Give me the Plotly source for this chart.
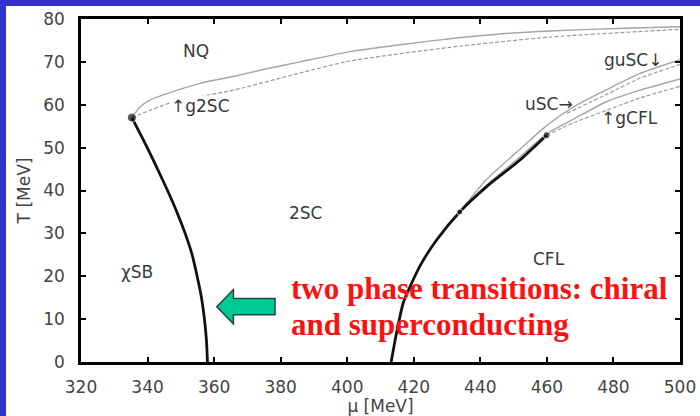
import plotly.graph_objects as go

# Phase boundaries in the (mu, T) plane, values in MeV
chiral_mu = [335.3, 337.6, 339.9, 343.0, 346.0, 348.8, 351.3, 353.4, 354.9, 356.2, 357.1, 357.7, 358.0]
chiral_T = [57.0, 53.5, 50.0, 45.0, 40.0, 35.0, 30.0, 25.0, 20.0, 15.0, 10.0, 5.0, 0.0]

cfl_mu = [413.2, 414.8, 416.8, 419.3, 422.3, 426.8, 433.8, 441.9, 451.9, 459.9]
cfl_T = [0.0, 6.7, 13.7, 18.3, 23.0, 28.4, 35.0, 40.9, 47.1, 52.9]

nq_mu = [335.3, 337.7, 340.7, 345.8, 355.8, 365.8, 375.8, 385.8, 400.8, 415.9, 430.9, 445.9, 461.0, 481.0, 500.0]
nq_T = [57.0, 59.5, 61.1, 62.6, 65.0, 66.6, 68.4, 70.0, 72.4, 74.0, 75.4, 76.5, 77.2, 77.8, 78.2]

g2sc_mu = [335.3, 340.7, 346.7, 355.8, 365.8, 385.8, 400.8, 430.9, 461.0, 500.0]
g2sc_T = [57.0, 58.7, 60.4, 61.9, 63.4, 67.4, 70.2, 73.4, 75.8, 77.6]

usc_mu = [433.8, 441.9, 451.9, 460.0, 468.9, 477.9, 488.0, 500.0]
usc_T = [35.0, 42.6, 49.6, 55.2, 59.9, 63.5, 67.3, 70.5]

gusc_mu = [466.0, 477.9, 488.0, 500.0]
gusc_T = [58.0, 62.4, 66.2, 69.4]

ucfl_mu = [433.8, 441.9, 451.9, 459.9, 467.9, 477.9, 488.0, 500.0]
ucfl_T = [35.0, 41.3, 47.8, 53.2, 56.6, 60.7, 63.4, 66.0]

gcfl_mu = [459.9, 468.0, 477.9, 488.0, 500.0]
gcfl_T = [52.9, 55.8, 58.7, 61.6, 64.3]

point_mu = [335.3, 433.8, 459.9]
point_T = [57.0, 35.0, 52.9]
point_size = [9, 6, 7]

# Region labels: (text, mu, T)
region_labels = [
    ("NQ", 354.6, 72.5),
    ("↑g2SC", 355.8, 59.7),
    ("2SC", 387.6, 34.7),
    ("χSB", 336.7, 21.0),
    ("CFL", 460.6, 24.0),
    ("uSC→", 460.5, 60.1),
    ("guSC↓", 485.9, 70.4),
    ("↑gCFL", 484.7, 57.0),
]

x_ticks = [320, 340, 360, 380, 400, 420, 440, 460, 480, 500]
y_ticks = [0, 10, 20, 30, 40, 50, 60, 70, 80]

# Block arrow pointing at the chiral boundary (mu, T vertices)
arrow_mu = [360.8, 365.8, 365.8, 378.3, 378.3, 365.8, 365.8]
arrow_T = [12.9, 16.9, 14.8, 14.8, 11.0, 11.0, 8.9]

note_lines = ["two phase transitions: chiral", "and superconducting"]

LABEL_FONT = "DejaVu Sans"
GREY = "#a6a6a6"
DASH_GREY = "#9a9a9a"

fig = go.Figure()


def add_line(mu, T, color, width, dash="solid"):
    fig.add_trace(go.Scatter(
        x=mu, y=T, mode="lines",
        line=dict(color=color, width=width, dash=dash, shape="spline", smoothing=0.6),
        hoverinfo="skip", showlegend=False,
    ))


add_line(nq_mu, nq_T, GREY, 1.4)
add_line(g2sc_mu, g2sc_T, DASH_GREY, 1.2, "4px,2px")
add_line(usc_mu, usc_T, GREY, 1.4)
add_line(gusc_mu, gusc_T, DASH_GREY, 1.2, "4px,2px")
add_line(ucfl_mu, ucfl_T, GREY, 1.4)
add_line(gcfl_mu, gcfl_T, DASH_GREY, 1.2, "4px,2px")
add_line(chiral_mu, chiral_T, "#111111", 2.8)
add_line(cfl_mu, cfl_T, "#111111", 2.8)

fig.add_trace(go.Scatter(
    x=point_mu, y=point_T, mode="markers",
    marker=dict(color="#111111", size=point_size),
    hoverinfo="skip", showlegend=False,
))

for text, mu, T in region_labels:
    fig.add_annotation(
        x=mu, y=T, text=text, showarrow=False,
        font=dict(family=LABEL_FONT, size=17, color="#3a3a3a"),
        bgcolor="white" if text == "↑g2SC" else None, borderpad=0,
    )

# Arrow
path = "M " + " L ".join(f"{m},{t}" for m, t in zip(arrow_mu, arrow_T)) + " Z"
fig.add_shape(type="path", path=path, xref="x", yref="y",
              fillcolor="#00c896", line=dict(color="#1f4a3a", width=1.5))

# Red note
for i, line in enumerate(note_lines):
    fig.add_annotation(
        x=382.5, y=17.2 - 8.4 * i, xanchor="left", yanchor="middle",
        text=f"<b>{line}</b>", showarrow=False,
        font=dict(family="Liberation Serif", size=31, color="#ff1010"),
    )

# Blue frame along the top and left edges
PX_L, PX_R, PX_T, PX_B, W, H = 81, 680, 19, 362, 700, 416
def px_x(p):
    return (p - PX_L) / (PX_R - PX_L)
def px_y(p):
    return (PX_B - p) / (PX_B - PX_T)

fig.add_shape(type="rect", xref="paper", yref="paper",
              x0=px_x(0), x1=px_x(6), y0=px_y(H), y1=px_y(0),
              fillcolor="#3333cc", line=dict(width=0), layer="above")
fig.add_shape(type="rect", xref="paper", yref="paper",
              x0=px_x(0), x1=px_x(W), y0=px_y(6), y1=px_y(0),
              fillcolor="#3333cc", line=dict(width=0), layer="above")

axis_common = dict(
    showgrid=False, zeroline=False, showline=True, linecolor="black", linewidth=2.5,
    mirror="ticks", ticks="inside", ticklen=5, tickwidth=2, tickcolor="black",
    tickfont=dict(family=LABEL_FONT, size=17, color="#444444"),
    automargin=False,
)

fig.update_xaxes(
    range=[320, 500], tickvals=x_ticks, ticktext=[str(v) for v in x_ticks],
    ticklabelstandoff=8,
    title=dict(text="μ [MeV]", font=dict(family=LABEL_FONT, size=17, color="#444444"), standoff=0),
    **axis_common,
)
fig.update_yaxes(
    range=[0, 80], tickvals=y_ticks, ticktext=[str(v) for v in y_ticks],
    ticklabelstandoff=10,
    title=dict(text="T [MeV]", font=dict(family=LABEL_FONT, size=17, color="#444444"), standoff=9),
    **axis_common,
)

fig.update_layout(
    width=W, height=H,
    margin=dict(l=PX_L, r=W - PX_R, t=PX_T, b=H - PX_B),
    paper_bgcolor="white", plot_bgcolor="white",
    showlegend=False,
)

fig.write_html("out.html")
